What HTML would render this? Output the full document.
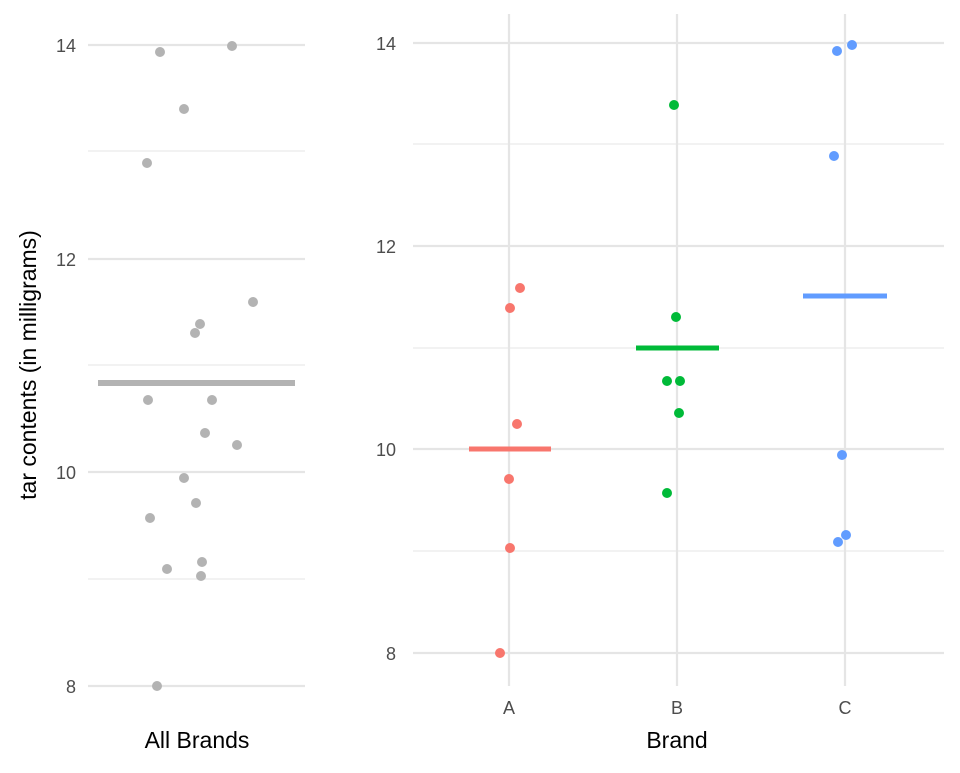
<!DOCTYPE html><html><head><style>body{margin:0;background:#fff}</style></head><body>
<svg width="960" height="768" xmlns="http://www.w3.org/2000/svg" font-family="Liberation Sans, sans-serif">
<rect width="960" height="768" fill="#fff"/>
<g stroke="#ebebeb" stroke-width="1.2">
<line x1="88" x2="305" y1="151" y2="151"/><line x1="88" x2="305" y1="365" y2="365"/><line x1="88" x2="305" y1="579" y2="579"/>
<line x1="413" x2="944" y1="144" y2="144"/><line x1="413" x2="944" y1="348" y2="348"/><line x1="413" x2="944" y1="551" y2="551"/>
</g>
<g stroke="#e5e5e5" stroke-width="2.2">
<line x1="88" x2="305" y1="45" y2="45"/><line x1="88" x2="305" y1="259" y2="259"/><line x1="88" x2="305" y1="472" y2="472"/><line x1="88" x2="305" y1="686" y2="686"/>
<line x1="413" x2="944" y1="43" y2="43"/><line x1="413" x2="944" y1="246" y2="246"/><line x1="413" x2="944" y1="449" y2="449"/><line x1="413" x2="944" y1="653" y2="653"/>
<line x1="509" x2="509" y1="14" y2="686"/><line x1="677" x2="677" y1="14" y2="686"/><line x1="845" x2="845" y1="14" y2="686"/>
</g>
<line x1="98" x2="295" y1="383" y2="383" stroke="#b3b3b3" stroke-width="6"/>
<g fill="#b3b3b3">
<circle cx="160" cy="52" r="5"/><circle cx="232" cy="46" r="5"/><circle cx="184" cy="109" r="5"/><circle cx="147" cy="163" r="5"/><circle cx="253" cy="302" r="5"/><circle cx="200" cy="324" r="5"/><circle cx="195" cy="333" r="5"/><circle cx="148" cy="400" r="5"/><circle cx="212" cy="400" r="5"/><circle cx="205" cy="433" r="5"/><circle cx="237" cy="445" r="5"/><circle cx="184" cy="478" r="5"/><circle cx="196" cy="503" r="5"/><circle cx="150" cy="518" r="5"/><circle cx="167" cy="569" r="5"/><circle cx="202" cy="562" r="5"/><circle cx="201" cy="576" r="5"/><circle cx="157" cy="686" r="5"/>
</g>
<line x1="469" x2="551" y1="449" y2="449" stroke="#F8766D" stroke-width="5"/>
<line x1="636" x2="719" y1="348" y2="348" stroke="#00BA38" stroke-width="5"/>
<line x1="803" x2="887" y1="296" y2="296" stroke="#619CFF" stroke-width="5"/>
<g fill="#F8766D"><circle cx="520" cy="288" r="5"/><circle cx="510" cy="308" r="5"/><circle cx="517" cy="424" r="5"/><circle cx="509" cy="479" r="5"/><circle cx="510" cy="548" r="5"/><circle cx="500" cy="653" r="5"/></g>
<g fill="#00BA38"><circle cx="674" cy="105" r="5"/><circle cx="676" cy="317" r="5"/><circle cx="667" cy="381" r="5"/><circle cx="680" cy="381" r="5"/><circle cx="679" cy="413" r="5"/><circle cx="667" cy="493" r="5"/></g>
<g fill="#619CFF"><circle cx="837" cy="51" r="5"/><circle cx="852" cy="45" r="5"/><circle cx="834" cy="156" r="5"/><circle cx="842" cy="455" r="5"/><circle cx="846" cy="535" r="5"/><circle cx="838" cy="542" r="5"/></g>
<g fill="#4d4d4d" font-size="18" text-anchor="end">
<text x="76" y="52">14</text><text x="76" y="266">12</text><text x="76" y="479">10</text><text x="76" y="693">8</text>
<text x="396" y="50">14</text><text x="396" y="253">12</text><text x="396" y="456">10</text><text x="396" y="660">8</text>
</g>
<g fill="#4d4d4d" font-size="18" text-anchor="middle">
<text x="509" y="714">A</text><text x="677" y="714">B</text><text x="845" y="714">C</text>
</g>
<g fill="#000" font-size="23" text-anchor="middle">
<text x="197" y="748">All Brands</text><text x="677" y="748">Brand</text>
<text transform="translate(36,365) rotate(-90)">tar contents (in milligrams)</text>
</g>
</svg>
</body></html>
